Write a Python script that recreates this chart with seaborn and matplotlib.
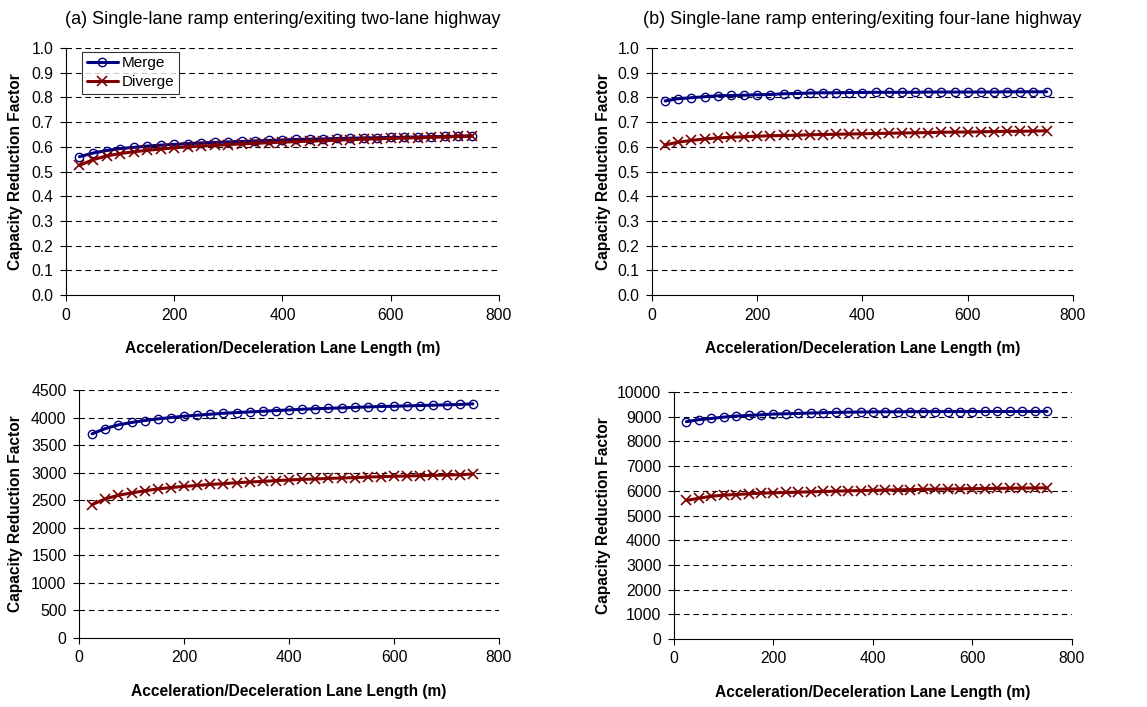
import matplotlib
matplotlib.use("Agg")
import matplotlib.pyplot as plt
import seaborn as sns
import pandas as pd
import numpy as np

sns.set_theme(style="white")
plt.rcParams['font.family'] = ['Liberation Sans', 'DejaVu Sans']
plt.rcParams['text.color'] = 'black'
plt.rcParams['axes.labelcolor'] = 'black'
plt.rcParams['xtick.color'] = 'black'
plt.rcParams['ytick.color'] = 'black'

lengths = list(range(25, 751, 25))

merge_a = [0.560, 0.575, 0.585, 0.593, 0.598, 0.603, 0.607, 0.610, 0.613, 0.616,
           0.618, 0.620, 0.622, 0.624, 0.626, 0.628, 0.630, 0.631, 0.632, 0.634,
           0.635, 0.636, 0.637, 0.638, 0.639, 0.640, 0.641, 0.642, 0.643, 0.644]
diverge_a = [0.525, 0.548, 0.563, 0.573, 0.580, 0.586, 0.591, 0.596, 0.600, 0.603,
             0.606, 0.609, 0.612, 0.614, 0.617, 0.619, 0.621, 0.623, 0.625, 0.627,
             0.629, 0.631, 0.633, 0.634, 0.636, 0.637, 0.639, 0.640, 0.642, 0.644]

merge_b = [0.786, 0.795, 0.799, 0.803, 0.807, 0.808, 0.809, 0.811, 0.812, 0.815,
           0.816, 0.818, 0.819, 0.819, 0.820, 0.820, 0.821, 0.821, 0.821, 0.821,
           0.822, 0.822, 0.822, 0.822, 0.822, 0.822, 0.823, 0.823, 0.823, 0.823]
diverge_b = [0.608, 0.619, 0.626, 0.632, 0.636, 0.639, 0.641, 0.643, 0.645, 0.646,
             0.647, 0.649, 0.650, 0.651, 0.652, 0.653, 0.654, 0.655, 0.656, 0.657,
             0.658, 0.659, 0.660, 0.660, 0.661, 0.662, 0.663, 0.663, 0.664, 0.665]

merge_c = [3705, 3800, 3867, 3910, 3946, 3976, 4000, 4024, 4042, 4060,
           4078, 4090, 4102, 4114, 4126, 4138, 4150, 4160, 4168, 4175,
           4185, 4193, 4200, 4205, 4212, 4218, 4224, 4230, 4237, 4248]
diverge_c = [2420, 2525, 2590, 2632, 2670, 2705, 2730, 2750, 2768, 2786,
             2800, 2817, 2830, 2842, 2855, 2867, 2878, 2885, 2896, 2903,
             2910, 2920, 2927, 2933, 2940, 2945, 2950, 2957, 2963, 2975]

merge_d = [8800, 8880, 8930, 8985, 9027, 9054, 9080, 9108, 9120, 9135,
           9150, 9162, 9175, 9185, 9190, 9195, 9200, 9200, 9205, 9205,
           9208, 9208, 9210, 9210, 9212, 9212, 9213, 9213, 9214, 9215]
diverge_d = [5610, 5700, 5780, 5825, 5850, 5880, 5905, 5920, 5932, 5945,
             5960, 5973, 5986, 6000, 6010, 6020, 6030, 6040, 6050, 6058,
             6065, 6072, 6080, 6087, 6093, 6100, 6105, 6110, 6115, 6120]

titles = ["(a) Single-lane ramp entering/exiting two-lane highway",
          "(b) Single-lane ramp entering/exiting four-lane highway", None, None]
xlabel = "Acceleration/Deceleration Lane Length (m)"
ylabel = "Capacity Reduction Factor"
series_names = ["Merge", "Diverge"]
colors = {"Merge": "#000080", "Diverge": "#800000"}

panels = [
    (merge_a, diverge_a, (0, 1.0), np.arange(0, 1.01, 0.1), "{:.1f}"),
    (merge_b, diverge_b, (0, 1.0), np.arange(0, 1.01, 0.1), "{:.1f}"),
    (merge_c, diverge_c, (0, 4500), np.arange(0, 4501, 500), "{:.0f}"),
    (merge_d, diverge_d, (0, 10000), np.arange(0, 10001, 1000), "{:.0f}"),
]
positions = [
    [0.0575, 0.5827, 0.3775, 0.3493],
    [0.5684, 0.5827, 0.3670, 0.3493],
    [0.0689, 0.0976, 0.3662, 0.3508],
    [0.5876, 0.0962, 0.3470, 0.3493],
]
ylab_x = [-0.099, -0.097, -0.133, -0.158]

fig = plt.figure(figsize=(11.47, 7.07), dpi=100)

for i, (m, d, ylim, yticks, fmt) in enumerate(panels):
    ax = fig.add_axes(positions[i])
    df = pd.DataFrame({
        "Length": lengths * 2,
        "Value": list(m) + list(d),
        "Series": ["Merge"] * len(lengths) + ["Diverge"] * len(lengths),
    })
    for name in series_names:
        sub = df[df["Series"] == name]
        if name == "Merge":
            sns.lineplot(data=sub, x="Length", y="Value", ax=ax, color=colors[name],
                         linewidth=2.2, marker="o", markersize=6,
                         markerfacecolor="none", markeredgecolor=colors[name],
                         markeredgewidth=1.0, label=name, legend=False)
        else:
            sns.lineplot(data=sub, x="Length", y="Value", ax=ax, color=colors[name],
                         linewidth=2.2, marker="x", markersize=6.5,
                         markeredgecolor=colors[name], markeredgewidth=1.2,
                         label=name, legend=False)
    ax.set_xlim(0, 800)
    ax.set_ylim(*ylim)
    ax.set_xticks([0, 200, 400, 600, 800])
    ax.set_yticks(yticks)
    ax.set_yticklabels([fmt.format(v) for v in yticks])
    for y in yticks[1:]:
        ax.axhline(y, color="black", linestyle=(0, (5, 3.5)), linewidth=0.8, zorder=0)
    for s in ["top", "right"]:
        ax.spines[s].set_visible(False)
    for s in ["left", "bottom"]:
        ax.spines[s].set_color("black")
        ax.spines[s].set_linewidth(0.8)
    ax.tick_params(axis="both", direction="out", length=4, width=0.8,
                   colors="black", labelcolor="black", labelsize=11.3,
                   left=True, bottom=True, pad=5)
    ax.set_xlabel(xlabel, fontsize=11.2, fontweight="bold", labelpad=13, color="black")
    ax.set_ylabel(ylabel, fontsize=11.2, fontweight="bold", color="black")
    ax.yaxis.set_label_coords(ylab_x[i], 0.5)
    if titles[i]:
        ax.set_title(titles[i], fontsize=13, pad=17, color="black")
    if i == 0:
        leg = ax.legend(loc="upper left", bbox_to_anchor=(0.038, 0.985), fontsize=11,
                        frameon=True, fancybox=False, edgecolor="black",
                        handlelength=2.0, handletextpad=0.3, borderpad=0.3,
                        labelspacing=0.3, borderaxespad=0)
        leg.get_frame().set_linewidth(0.8)
        for t in leg.get_texts():
            t.set_color("black")

fig.savefig("out.png", dpi=100)
